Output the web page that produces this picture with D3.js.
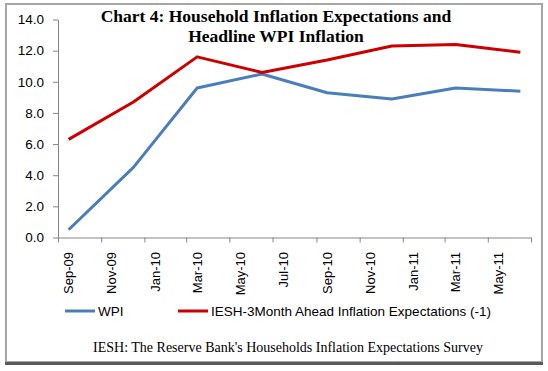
<!DOCTYPE html>
<html>
<head>
<meta charset="utf-8">
<script src="https://cdn.jsdelivr.net/npm/d3@7"></script>
<style>
  body { margin: 0; background: #fff; }
  svg { display: block; }
  .axis text { font-family: "Liberation Sans", Arial, sans-serif; font-size: 13px; fill: #000; }
  .axis.y text { font-size: 13.5px; }
  .axis path, .axis line { stroke: #868686; }
</style>
</head>
<body>
<div id="chart"></div>
<script>
// quarterly observations
var quarters = ["Sep-09", "Dec-09", "Mar-10", "Jun-10", "Sep-10", "Dec-10", "Mar-11", "Jun-11"];
var wpi = [0.5, 4.5, 9.6, 10.5, 9.3, 8.9, 9.6, 9.4];
var iesh = [6.3, 8.7, 11.6, 10.6, 11.4, 12.3, 12.4, 11.9];
var tickLabels = ["Sep-09", "Nov-09", "Jan-10", "Mar-10", "May-10", "Jul-10", "Sep-10", "Nov-10", "Jan-11", "Mar-11", "May-11"];
var yTicks = [0, 2, 4, 6, 8, 10, 12, 14];

function init() {
  var w = 548, h = 371;
  var parse = d3.timeParse("%b-%y");

  var svg = d3.select("#chart").append("svg")
    .attr("width", w)
    .attr("height", h);

  // frame
  svg.append("rect")
    .attr("x", 6).attr("y", 4)
    .attr("width", 536).attr("height", 358)
    .attr("fill", "#fff")
    .attr("stroke", "#a6a6a6")
    .attr("stroke-width", 2);
  svg.append("line")
    .attr("x1", 5).attr("x2", 543)
    .attr("y1", 363.5).attr("y2", 363.5)
    .attr("stroke", "#5a5a5a")
    .attr("stroke-width", 3);

  var start = parse(tickLabels[0]);
  var end = d3.timeMonth.offset(parse(tickLabels[tickLabels.length - 1]), 2);

  var x = d3.scaleTime().domain([start, end]).range([58, 531]);
  var y = d3.scaleLinear().domain([0, 14]).range([237.5, 19.5]);

  // middle of a month slot
  function mid(d) {
    return (x(d) + x(d3.timeMonth.offset(d, 1))) / 2;
  }

  var tickDates = tickLabels.map(parse).concat([end]);

  // x axis: tick marks at slot edges
  svg.append("g")
    .attr("class", "axis")
    .attr("transform", "translate(0," + y(0) + ")")
    .call(d3.axisBottom(x).tickValues(tickDates).tickSize(5).tickSizeOuter(0).tickFormat(""));

  // rotated month labels, centred in their slot
  svg.append("g")
    .attr("class", "axis")
    .selectAll("text")
    .data(tickLabels)
    .enter()
    .append("text")
    .attr("transform", function(d) {
      return "translate(" + (mid(parse(d)) + 4.5) + ",252) rotate(-90)";
    })
    .attr("text-anchor", "end")
    .text(function(d) { return d; });

  svg.append("g")
    .attr("class", "axis y")
    .attr("transform", "translate(58,0)")
    .call(d3.axisLeft(y).tickValues(yTicks).tickSize(5).tickSizeOuter(0).tickPadding(9).tickFormat(d3.format(".1f")));

  var line = d3.line()
    .x(function(d) { return mid(parse(d.q)); })
    .y(function(d) { return y(d.v); });

  var series = [
    { name: "WPI", color: "#4a7ebb", values: wpi },
    { name: "IESH-3Month Ahead Inflation Expectations (-1)", color: "#cc0000", values: iesh }
  ];

  svg.selectAll("path.series")
    .data(series)
    .enter()
    .append("path")
    .attr("class", "series")
    .attr("fill", "none")
    .attr("stroke", function(d) { return d.color; })
    .attr("stroke-width", 3)
    .attr("stroke-linejoin", "round")
    .attr("d", function(d) {
      return line(d.values.map(function(v, i) { return { q: quarters[i], v: v }; }));
    });

  // title
  var title = svg.append("text")
    .attr("text-anchor", "middle")
    .attr("font-family", "'Liberation Serif', 'Times New Roman', serif")
    .attr("font-weight", "bold")
    .attr("font-size", "17.5px");
  title.append("tspan").attr("x", 276).attr("y", 22).text("Chart 4: Household Inflation Expectations and");
  title.append("tspan").attr("x", 276).attr("y", 42).text("Headline WPI Inflation");

  // legend
  var legendX = [65, 178];
  var legend = svg.selectAll("g.legend")
    .data(series)
    .enter()
    .append("g")
    .attr("class", "legend")
    .attr("transform", function(d, i) { return "translate(" + legendX[i] + ",311)"; });
  legend.append("line")
    .attr("x1", 0).attr("x2", 30)
    .attr("stroke", function(d) { return d.color; })
    .attr("stroke-width", 3);
  legend.append("text")
    .attr("x", 33)
    .attr("y", 4.5)
    .attr("font-family", "'Liberation Sans', Arial, sans-serif")
    .attr("font-size", "13.5px")
    .text(function(d) { return d.name; });

  // note
  svg.append("text")
    .attr("x", 288)
    .attr("y", 352)
    .attr("text-anchor", "middle")
    .attr("font-family", "'Liberation Serif', 'Times New Roman', serif")
    .attr("font-size", "14px")
    .text("IESH: The Reserve Bank's Households Inflation Expectations Survey");
}

window.onload = init;
</script>
</body>
</html>
